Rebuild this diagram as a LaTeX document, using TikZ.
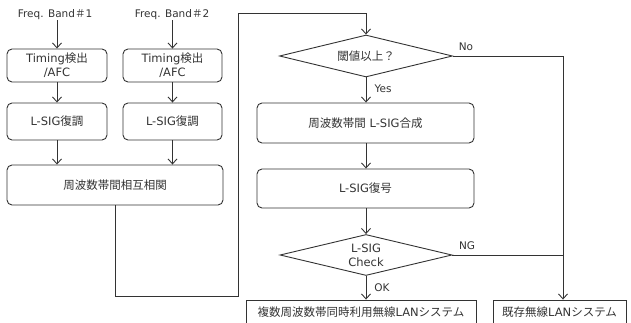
\documentclass[tikz,border=0pt]{standalone}
\usepackage{fontspec}
\setmainfont{DejaVu Sans}
\newfontfamily\jp{Noto Sans CJK JP}
\usetikzlibrary{arrows.meta,shapes.geometric}
\tikzset{
  ln/.style={draw=black!80, line width=0.9pt},
  arr/.style={ln, -{Straight Barb[length=5pt,width=9pt,line width=0.9pt]}},
  rbox/.style={draw=black!80, line width=0.9pt, rounded corners=5pt, align=center, inner sep=0pt, text=black!80, font=\fontsize{11.5}{14}\selectfont},
  sbox/.style={draw=black!80, line width=0.9pt, align=center, inner sep=0pt, text=black!80, font=\fontsize{11.5}{14}\selectfont},
  dia/.style={draw=black!80, line width=0.9pt, diamond, shape aspect=4.1, inner sep=0pt, align=center, text=black!80, font=\fontsize{11.5}{14}\selectfont},
  lbl/.style={text=black!80, font=\fontsize{10.5}{12}\selectfont, inner sep=0pt},
}
\begin{document}
\begin{tikzpicture}[x=1pt,y=-1pt]
\useasboundingbox (0,0) rectangle (631,323);
% left inputs
\node[lbl, font=\fontsize{10.5}{13}\selectfont] (f1) at (55,15) {Freq. Band{\jp ＃}1};
\node[lbl, font=\fontsize{10.5}{13}\selectfont] (f2) at (172,15) {Freq. Band{\jp ＃}2};
\node[rbox, minimum width=100pt, minimum height=33pt] (t1) at (57,65.5) {Timing{\jp 検出}\\/AFC};
\node[rbox, minimum width=99pt, minimum height=33pt] (t2) at (172.5,65.5) {Timing{\jp 検出}\\/AFC};
\node[rbox, minimum width=100pt, minimum height=37pt] (l1) at (57,121.5) {L-SIG{\jp 復調}};
\node[rbox, minimum width=99pt, minimum height=37pt] (l2) at (172.5,121.5) {L-SIG{\jp 復調}};
\node[rbox, minimum width=216pt, minimum height=40pt] (corr) at (115,185) {\jp 周波数帯間相互相関};
% right column
\node[dia, minimum width=173pt, minimum height=42pt] (d1) at (366,56) {\jp 閾値以上？};
\node[rbox, minimum width=217pt, minimum height=40pt] (s1) at (365.5,123) {{\jp 周波数帯間} L-SIG{\jp 合成}};
\node[rbox, minimum width=217pt, minimum height=39pt] (s2) at (365.5,188.5) {L-SIG{\jp 復号}};
\node[dia, minimum width=172pt, minimum height=41pt] (d2) at (366,255) {L-SIG\\Check};
\node[sbox, minimum width=230pt, minimum height=24pt] (o1) at (361,312) {{\jp 複数周波数帯同時利用無線}LAN{\jp システム}};
\node[sbox, minimum width=133pt, minimum height=24pt] (o2) at (559.5,312) {{\jp 既存無線}LAN{\jp システム}};
% connectors left
\draw[arr] (f1.south -| t1.north) -- (t1);
\draw[arr] (f2.south -| t2.north) -- (t2);
\draw[arr] (t1) -- (l1);
\draw[arr] (t2) -- (l2);
\draw[arr] (l1) -- (l1.south |- corr.north);
\draw[arr] (l2) -- (l2.south |- corr.north);
\coordinate (p1) at (115,296);
\coordinate (p2) at (238,296);
\coordinate (p3) at (238,13);
\coordinate (p4) at (366,13);
\draw[arr] (corr.south -| p1) -- (p1) -- (p2) -- (p3) -- (p4) -- (d1.north);
% right connectors
\draw[arr] (d1.south) -- (s1.north -| d1.south);
\draw[arr] (s1.south -| d1.south) -- (s2.north -| d1.south);
\draw[arr] (s2.south -| d2.north) -- (d2.north);
\draw[arr] (d2.south) -- (d2.south |- o1.north);
\coordinate (c1) at (563,56);
\draw[arr] (d1.east) -- (c1) -- (c1 |- o2.north);
\draw[ln] (d2.east) -- (d2.east -| c1);
% labels
\node[lbl] (no) at (466,47) {No};
\node[lbl] (yes) at (383,89) {Yes};
\node[lbl] (ng) at (467,246) {NG};
\node[lbl] (ok) at (382,288) {OK};
\end{tikzpicture}
\end{document}
